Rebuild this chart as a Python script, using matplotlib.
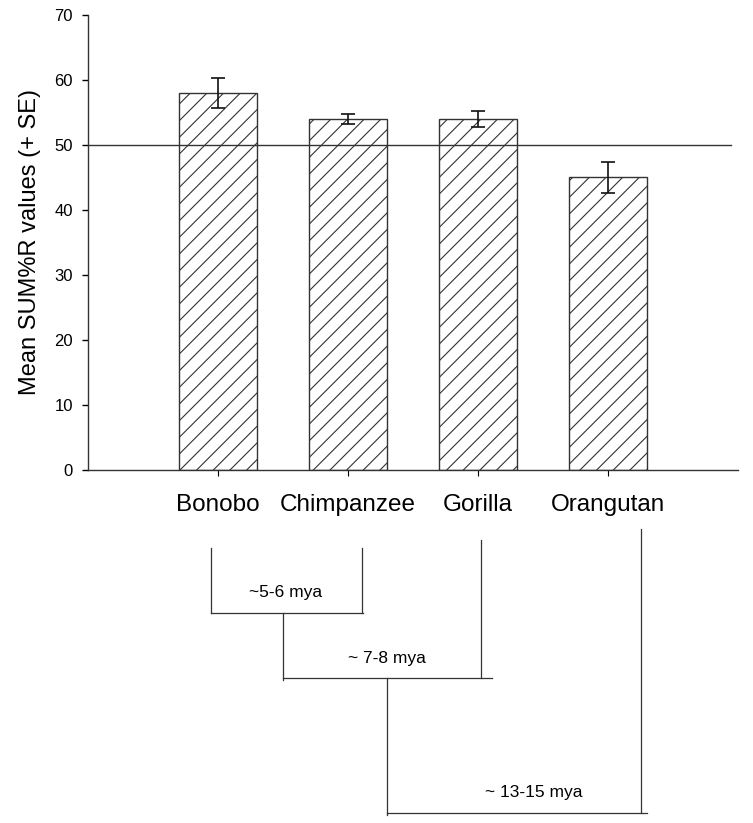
import matplotlib
matplotlib.use("Agg")
import matplotlib.pyplot as plt

plt.rcParams['font.family'] = ['Liberation Sans', 'DejaVu Sans']
plt.rcParams['hatch.linewidth'] = 0.8

species = ["Bonobo", "Chimpanzee", "Gorilla", "Orangutan"]
mean_sumr = [58.0, 54.0, 54.0, 45.0]
se_sumr = [2.3, 0.7, 1.3, 2.4]
chance_level = 50

# phylogeny sketch under the chart (picture pixels)
leaf_x = [211, 362, 481, 641]
leaf_top = [548, 548, 540, 529]
node_y = [613, 678, 813]
node_right = [363, 492, 647]
stem_x = [283, 387]
node_labels = ["~5-6 mya", "~ 7-8 mya", "~ 13-15 mya"]
node_label_x = [286, 387, 534]
node_label_y = [592, 658, 792]

fig = plt.figure(figsize=(7.53, 8.23), dpi=100)
ax = fig.add_axes([0.1173, 0.4289, 0.8628, 0.5529])

x = range(len(species))
ax.bar(x, mean_sumr, width=0.6, color="white", edgecolor="#333333",
       linewidth=1.0, hatch="//", zorder=2)
ax.errorbar(x, mean_sumr, yerr=se_sumr, fmt="none", ecolor="#111111",
            elinewidth=1.2, capsize=5, capthick=1.2, zorder=3)
ax.axhline(chance_level, xmin=0, xmax=0.989, color="#333333", linewidth=1.0,
           zorder=4)

ax.set_xlim(-1, 4)
ax.set_ylim(0, 70)
ax.set_yticks(range(0, 71, 10))
ax.set_xticks(list(x))
ax.set_xticklabels(species, fontsize=17.5)
ax.tick_params(axis="y", labelsize=12, length=4, width=1, pad=7)
ax.tick_params(axis="x", length=4, width=0.8, pad=13)
ax.set_ylabel("Mean SUM%R values (+ SE)", fontsize=17, labelpad=10)
for side in ["top", "right"]:
    ax.spines[side].set_visible(False)
for side in ["left", "bottom"]:
    ax.spines[side].set_color("#333333")
    ax.spines[side].set_linewidth(1.0)

# tree overlay in pixel coordinates
tree = fig.add_axes([0, 0, 1, 1])
tree.set_xlim(0, 753)
tree.set_ylim(823, 0)
tree.axis("off")
lc = "#333333"
lw = 0.9
# leaves
for i in range(4):
    bottom = node_y[0] if i < 2 else node_y[i - 1]
    tree.plot([leaf_x[i], leaf_x[i]], [leaf_top[i], bottom], color=lc, lw=lw)
# horizontal joins
lefts = [leaf_x[0], stem_x[0], stem_x[1]]
for k in range(3):
    tree.plot([lefts[k], node_right[k]], [node_y[k], node_y[k]], color=lc, lw=lw)
# stems down to next node
for k in range(2):
    tree.plot([stem_x[k], stem_x[k]], [node_y[k], node_y[k + 1] + 2], color=lc, lw=lw)
for k in range(3):
    tree.text(node_label_x[k], node_label_y[k], node_labels[k], fontsize=12.5,
              ha="center", va="center")

fig.savefig("out.png", dpi=100)
